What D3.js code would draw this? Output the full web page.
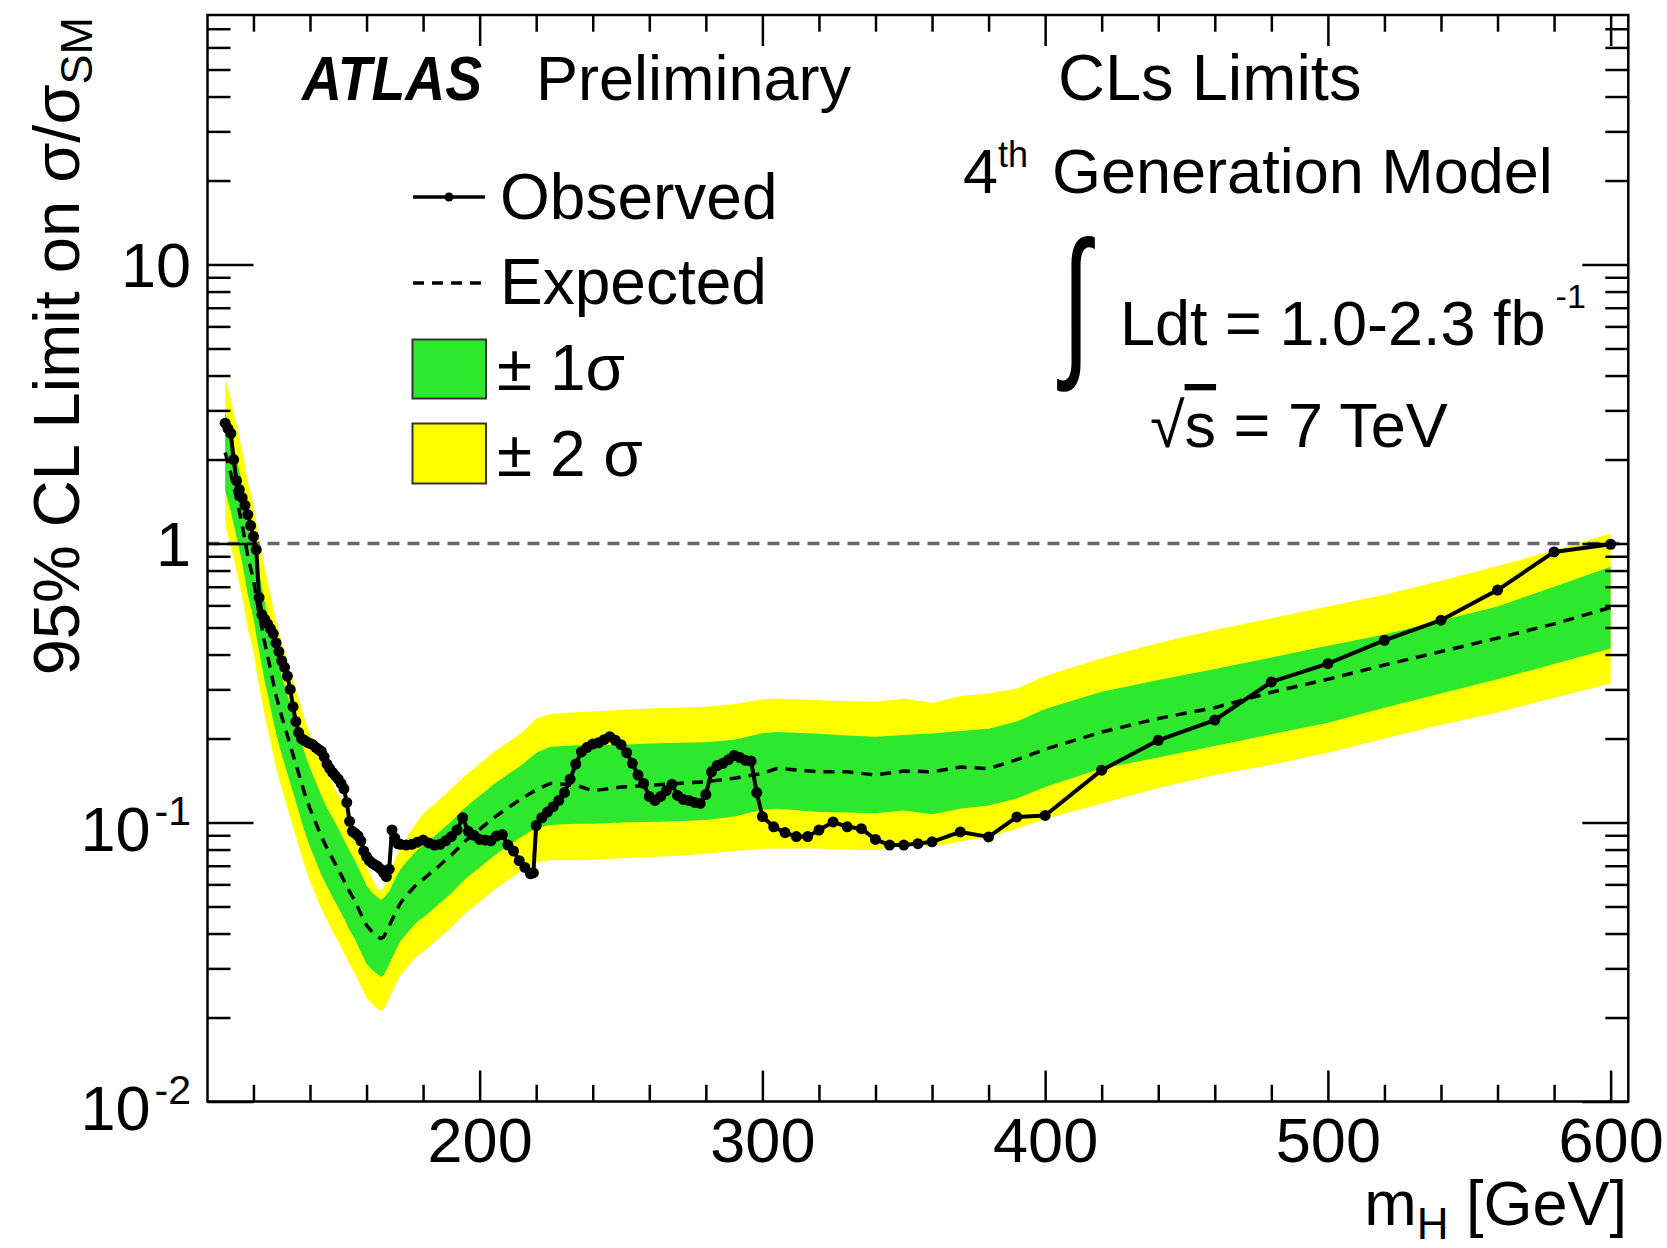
<!DOCTYPE html>
<html>
<head>
<meta charset="utf-8">
<script src="https://cdn.jsdelivr.net/npm/d3@7"></script>
<style>
  body { margin: 0; background: #fff; overflow: hidden; }
  svg text { font-family: "Liberation Sans", Arial, Helvetica, sans-serif; fill: #000; }
</style>
</head>
<body>
<script>
// Expected limit and bands
var massExp = [110,112,114,116,118,120,122,124,126,128,130,132,134,136,138,140,142,144,146,148,
  150,152,154,156,158,160,162,164,165,166,168,170,172,174,176,178,180,185,190,195,
  200,205,210,215,220,225,230,235,240,250,260,270,280,290,300,305,310,320,330,340,
  350,360,370,380,390,400,420,440,460,480,500,520,540,560,580,600];

var expected = [2.12,1.78,1.45,1.17,0.90,0.74,0.56,0.44,0.355,0.285,0.24,0.205,0.175,0.15,0.128,0.112,0.1,0.089,0.081,0.074,
  0.068,0.062,0.0565,0.052,0.047,0.0428,0.0405,0.039,0.0384,0.0388,0.0425,0.047,0.0515,0.0545,0.0575,0.0605,0.0625,0.069,0.0765,0.086,
  0.0945,0.104,0.113,0.122,0.131,0.138,0.137,0.135,0.130,0.134,0.136,0.138,0.140,0.144,0.150,0.156,0.155,0.152,0.152,0.148,
  0.153,0.152,0.158,0.156,0.168,0.183,0.211,0.236,0.258,0.293,0.326,0.367,0.41,0.458,0.515,0.59];

var sigma1Low = [1.55,1.30,1.06,0.854,0.657,0.54,0.409,0.321,0.259,0.208,0.175,0.150,0.128,0.1095,0.0934,0.0818,0.073,0.065,0.0591,0.054,
  0.0496,0.0453,0.0412,0.038,0.0343,0.0312,0.0296,0.0285,0.028,0.0283,0.031,0.0343,0.0376,0.0398,0.042,0.0442,0.0456,0.0504,0.0558,0.0628,
  0.069,0.0759,0.0825,0.089,0.0956,0.098,0.0985,0.099,0.099,0.1,0.1005,0.101,0.102,0.105,0.111,0.112,0.111,0.109,0.1085,0.108,
  0.1105,0.107,0.112,0.115,0.122,0.134,0.156,0.171,0.188,0.207,0.228,0.258,0.29,0.326,0.37,0.42];

var sigma1High = [2.97,2.49,2.03,1.64,1.26,1.04,0.784,0.616,0.497,0.399,0.336,0.287,0.245,0.21,0.179,0.157,0.14,0.125,0.113,0.104,
  0.0952,0.0868,0.0791,0.0728,0.0658,0.0595,0.056,0.0538,0.053,0.0535,0.0567,0.0625,0.068,0.072,0.0759,0.0799,0.0825,0.0911,0.101,0.1135,
  0.1247,0.137,0.149,0.161,0.178,0.187,0.188,0.189,0.189,0.19,0.192,0.193,0.194,0.198,0.209,0.211,0.21,0.208,0.205,0.203,
  0.206,0.2085,0.213,0.217,0.23,0.255,0.294,0.324,0.355,0.39,0.43,0.472,0.53,0.595,0.70,0.825];

var sigma2Low = [1.17,0.98,0.80,0.644,0.495,0.407,0.308,0.242,0.195,0.157,0.132,0.113,0.0963,0.0825,0.0704,0.0616,0.055,0.049,0.0446,0.0407,
  0.0374,0.0341,0.0311,0.0286,0.0259,0.0235,0.0223,0.0215,0.0211,0.0213,0.0234,0.0259,0.0283,0.03,0.0316,0.0333,0.0344,0.038,0.0421,0.0473,
  0.052,0.0572,0.0622,0.0671,0.072,0.0733,0.0733,0.0733,0.0735,0.0745,0.0753,0.076,0.0772,0.079,0.0805,0.0807,0.0807,0.0807,0.080,0.0796,
  0.0835,0.0818,0.0855,0.0889,0.095,0.103,0.117,0.133,0.148,0.161,0.178,0.2,0.224,0.248,0.28,0.315];

var sigma2High = [3.92,3.29,2.68,2.16,1.67,1.37,1.04,0.814,0.657,0.527,0.444,0.379,0.324,0.278,0.237,0.207,0.185,0.165,0.15,0.137,
  0.126,0.115,0.104,0.0936,0.080,0.070,0.0628,0.0577,0.0572,0.0582,0.0655,0.0733,0.0814,0.0872,0.0943,0.101,0.1075,0.119,0.132,0.148,
  0.1625,0.179,0.194,0.21,0.236,0.245,0.247,0.249,0.25,0.253,0.256,0.258,0.26,0.266,0.276,0.278,0.277,0.274,0.272,0.271,
  0.278,0.268,0.284,0.29,0.302,0.335,0.388,0.44,0.49,0.54,0.595,0.655,0.735,0.83,0.945,1.086];

// Observed limit
var massObs = [110,111,112,113,114,115,116,117,118,119,120,121,122,123,124,125,126,127,128,129,
  130,131,132,133,134,135,136,137,138,139,140,141,142,143,144,145,146,147,148,149,
  150,151,152,153,154,155,156,157,158,159,160,161,162,163,164,165,166,167,168,169,
  170,171,172,174,176,178,180,182,184,186,188,190,192,194,196,198,200,202,204,206,
  208,210,212,214,216,218,219,220,222,224,226,228,230,232,234,236,238,240,242,244,
  246,248,250,252,254,256,258,260,262,264,266,268,270,272,274,276,278,280,282,284,
  286,288,290,292,294,296,298,300,304,308,312,316,320,325,330,335,340,345,350,355,
  360,370,380,390,400,420,440,460,480,500,520,540,560,580,600];

var observed = [2.70,2.58,2.48,2.0,1.68,1.56,1.46,1.37,1.27,1.16,1.06,0.95,0.64,0.555,0.535,0.515,0.495,0.475,0.44,0.41,
  0.38,0.36,0.335,0.30,0.26,0.23,0.21,0.20,0.197,0.194,0.192,0.19,0.186,0.183,0.18,0.172,0.162,0.156,0.151,0.147,
  0.143,0.138,0.132,0.118,0.101,0.093,0.0915,0.0895,0.086,0.079,0.0755,0.073,0.0715,0.0705,0.0695,0.068,0.066,0.064,0.068,0.094,
  0.088,0.084,0.0835,0.083,0.0835,0.085,0.0865,0.0845,0.083,0.0835,0.086,0.089,0.094,0.104,0.093,0.09,0.087,0.0865,0.086,0.0895,
  0.0905,0.083,0.079,0.073,0.069,0.0655,0.066,0.0975,0.104,0.109,0.114,0.12,0.128,0.143,0.162,0.179,0.186,0.191,0.193,0.198,
  0.203,0.197,0.19,0.178,0.163,0.148,0.138,0.124,0.12,0.124,0.13,0.137,0.125,0.121,0.12,0.118,0.117,0.126,0.152,0.16,
  0.163,0.168,0.174,0.171,0.167,0.166,0.128,0.105,0.0965,0.092,0.089,0.089,0.094,0.1005,0.0965,0.095,0.087,0.083,0.083,0.084,
  0.0853,0.0925,0.0888,0.1047,0.106,0.154,0.197,0.233,0.319,0.371,0.45,0.531,0.681,0.933,0.994];

// Axis ticks and labels
var xMajorTicks = [200, 300, 400, 500, 600];
var xTickLabels = ["200", "300", "400", "500", "600"];
var xMinorTicks = [120,140,160,180,220,240,260,280,320,340,360,380,420,440,460,480,520,540,560,580];
var yMajorTicks = [0.01, 0.1, 1, 10];
var yLabelBase = ["10", "10", "1", "10"];
var yLabelExp = ["-2", "-1", "", ""];
var yMinorTicks = [0.02,0.03,0.04,0.05,0.06,0.07,0.08,0.09,0.2,0.3,0.4,0.5,0.6,0.7,0.8,0.9,
  2,3,4,5,6,7,8,9,20,30,40,50,60,70];

window.onload = function() {
  var width = 1667;
  var height = 1248;
  var left = 207.5, right = 1628.3, top = 15, bottom = 1101.5;
  var green = "#2ee82e";
  var yellow = "#ffff00";

  var svg = d3.select("body").append("svg")
              .attr("width", width)
              .attr("height", height);

  var x = d3.scaleLinear().domain([103.75, 606.25]).range([left, right]);
  var y = d3.scaleLog().domain([0.01, 78.4]).range([bottom, top]);

  svg.append("clipPath").attr("id", "plotclip")
     .append("rect")
     .attr("x", left).attr("y", top)
     .attr("width", right - left).attr("height", bottom - top);

  var plot = svg.append("g").attr("clip-path", "url(#plotclip)");

  // Bands
  var band = function(lo, hi) {
    return d3.area()
      .x(function(d, i) { return x(massExp[i]); })
      .y0(function(d, i) { return y(lo[i]); })
      .y1(function(d, i) { return y(hi[i]); });
  };
  plot.append("path").datum(massExp)
      .attr("d", band(sigma2Low, sigma2High))
      .attr("fill", yellow);
  plot.append("path").datum(massExp)
      .attr("d", band(sigma1Low, sigma1High))
      .attr("fill", green);

  // Expected
  var expLine = d3.line()
    .x(function(d, i) { return x(massExp[i]); })
    .y(function(d, i) { return y(expected[i]); });
  plot.append("path").datum(massExp)
      .attr("d", expLine)
      .attr("fill", "none")
      .attr("stroke", "#000")
      .attr("stroke-width", 3.5)
      .attr("stroke-dasharray", "11,8");

  // SM line at 1
  plot.append("line")
      .attr("x1", left).attr("x2", right)
      .attr("y1", y(1)).attr("y2", y(1))
      .attr("stroke", "#666")
      .attr("stroke-width", 3.5)
      .attr("stroke-dasharray", "12,8");

  // Observed
  var obsLine = d3.line()
    .x(function(d, i) { return x(massObs[i]); })
    .y(function(d, i) { return y(observed[i]); });
  plot.append("path").datum(massObs)
      .attr("d", obsLine)
      .attr("fill", "none")
      .attr("stroke", "#000")
      .attr("stroke-width", 4)
      .attr("stroke-linejoin", "round");
  plot.selectAll(".obs")
      .data(massObs)
      .enter()
      .append("circle")
      .attr("class", "obs")
      .attr("cx", function(d) { return x(d); })
      .attr("cy", function(d, i) { return y(observed[i]); })
      .attr("r", 5.5)
      .attr("fill", "#000");

  // Ticks on all four sides, pointing inwards
  function ticks(axis, transform) {
    var g = svg.append("g").attr("transform", transform).call(axis);
    g.select(".domain").remove();
    g.selectAll("line").attr("stroke", "#000").attr("stroke-width", 2.5);
    return g;
  }
  var xLabels = ticks(d3.axisBottom(x).tickValues(xMajorTicks).tickSize(-31).tickPadding(16)
        .tickFormat(function(d, i) { return xTickLabels[i]; }), "translate(0," + bottom + ")");
  xLabels.attr("font-size", 63).attr("font-family", null);
  xLabels.selectAll("text").attr("fill", "#000");
  ticks(d3.axisBottom(x).tickValues(xMinorTicks).tickSize(-16.7).tickFormat(""), "translate(0," + bottom + ")");
  ticks(d3.axisTop(x).tickValues(xMajorTicks).tickSize(-31).tickFormat(""), "translate(0," + top + ")");
  ticks(d3.axisTop(x).tickValues(xMinorTicks).tickSize(-16.7).tickFormat(""), "translate(0," + top + ")");
  ticks(d3.axisLeft(y).tickValues(yMajorTicks).tickSize(-46).tickFormat(""), "translate(" + left + ",0)");
  ticks(d3.axisLeft(y).tickValues(yMinorTicks).tickSize(-23).tickFormat(""), "translate(" + left + ",0)");
  ticks(d3.axisRight(y).tickValues(yMajorTicks).tickSize(-46).tickFormat(""), "translate(" + right + ",0)");
  ticks(d3.axisRight(y).tickValues(yMinorTicks).tickSize(-23).tickFormat(""), "translate(" + right + ",0)");

  // Frame
  svg.append("rect")
     .attr("x", left).attr("y", top)
     .attr("width", right - left).attr("height", bottom - top)
     .attr("fill", "none")
     .attr("stroke", "#000")
     .attr("stroke-width", 2.5);

  // Y tick labels with exponents
  yMajorTicks.forEach(function(v, i) {
    var t = svg.append("text")
       .attr("x", 191)
       .attr("y", y(v) + (yLabelExp[i] ? 28 : 22.5))
       .attr("text-anchor", "end")
       .attr("font-size", 63)
       .text(yLabelBase[i]);
    if (yLabelExp[i]) {
      t.append("tspan").attr("font-size", 41).attr("dy", -26).attr("dx", 4).text(yLabelExp[i]);
    }
  });

  // Axis titles
  var xt = svg.append("text")
     .attr("x", 1627).attr("y", 1225)
     .attr("text-anchor", "end")
     .attr("font-size", 63)
     .text("m");
  xt.append("tspan").attr("font-size", 44).attr("dy", 14).text("H");
  xt.append("tspan").attr("dy", -14).text(" [GeV]");

  var yt = svg.append("text")
     .attr("transform", "translate(79,17) rotate(-90)")
     .attr("text-anchor", "end")
     .attr("font-size", 65)
     .text("95% CL Limit on σ/σ");
  yt.append("tspan").attr("font-size", 45).attr("dy", 13).text("SM");

  // ATLAS label
  svg.append("text")
     .attr("x", 302).attr("y", 100)
     .attr("font-size", 63)
     .attr("font-weight", "bold")
     .attr("font-style", "italic")
     .attr("textLength", 180)
     .attr("lengthAdjust", "spacingAndGlyphs")
     .text("ATLAS");
  svg.append("text")
     .attr("x", 536).attr("y", 100)
     .attr("font-size", 63)
     .text("Preliminary");

  // Right-hand labels
  svg.append("text")
     .attr("x", 1058).attr("y", 100)
     .attr("font-size", 65)
     .text("CLs Limits");
  var gen = svg.append("text")
     .attr("x", 963).attr("y", 193)
     .attr("font-size", 63)
     .text("4");
  gen.append("tspan").attr("font-size", 36).attr("dy", -26).text("th");
  gen.append("tspan").attr("x", 1052).attr("dy", 26).text("Generation Model");

  svg.append("text")
     .attr("transform", "translate(1062,357) scale(0.85,1.37)")
     .attr("font-size", 120)
     .text("∫");
  var lumi = svg.append("text")
     .attr("x", 1120).attr("y", 345)
     .attr("font-size", 63)
     .text("Ldt = 1.0-2.3 fb");
  lumi.append("tspan").attr("font-size", 34).attr("dy", -37).attr("dx", 10).text("-1");

  var ecm = svg.append("text")
     .attr("x", 1150).attr("y", 447)
     .attr("font-size", 63)
     .text("√");
  ecm.append("tspan").attr("text-decoration", "overline").text("s");
  ecm.append("tspan").text(" = 7 TeV");

  // Legend
  var lx0 = 413, lx1 = 485;
  svg.append("line")
     .attr("x1", lx0).attr("x2", lx1).attr("y1", 197).attr("y2", 197)
     .attr("stroke", "#000").attr("stroke-width", 3.5);
  svg.append("circle")
     .attr("cx", (lx0 + lx1) / 2).attr("cy", 197).attr("r", 4.5).attr("fill", "#000");
  svg.append("line")
     .attr("x1", lx0).attr("x2", lx1).attr("y1", 283).attr("y2", 283)
     .attr("stroke", "#000").attr("stroke-width", 3.5)
     .attr("stroke-dasharray", "11,8");
  svg.append("rect")
     .attr("x", 412.5).attr("y", 339.5).attr("width", 73.5).attr("height", 59)
     .attr("fill", green).attr("stroke", "#333").attr("stroke-width", 2);
  svg.append("rect")
     .attr("x", 412.5).attr("y", 423.5).attr("width", 73.5).attr("height", 60)
     .attr("fill", yellow).attr("stroke", "#333").attr("stroke-width", 2);

  var legendText = ["Observed", "Expected", "± 1σ", "± 2 σ"];
  var legendY = [219, 304, 390, 476];
  legendText.forEach(function(s, i) {
    svg.append("text")
       .attr("x", i < 2 ? 500 : 497)
       .attr("y", legendY[i])
       .attr("font-size", 64)
       .text(s);
  });
};
</script>
</body>
</html>
